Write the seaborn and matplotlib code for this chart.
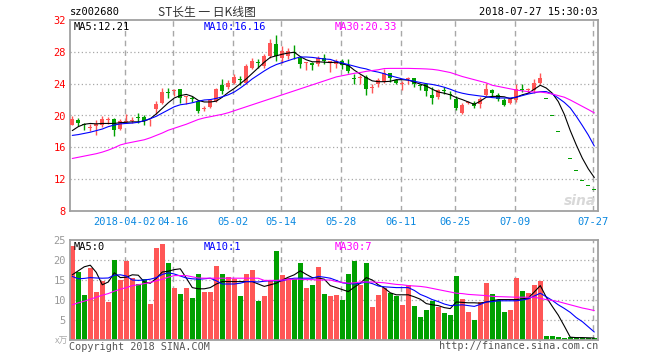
import numpy as np
import pandas as pd
import matplotlib
matplotlib.use("Agg")
import matplotlib.pyplot as plt
import seaborn as sns

# daily K data, 2018-03-20 .. 2018-07-27 (88 trading days shown)
opens = [18.85, 19.45, 18.9, 18.4, 18.67, 18.76, 19.45, 19.6, 18.3, 19.15,
         19.35, 19.75, 19.85, 19.25, 20.8, 21.6, 22.85, 23.05, 23.3, 22.35,
         22.1, 21.82, 20.85, 21.06, 21.82, 23.79, 23.62, 24.12, 24.6, 24.12,
         26.01, 26.7, 26.22, 27.48, 28.94, 27.27, 27.48, 27.95, 27.27, 26.6,
         26.64, 26.43, 27.27, 26.64, 26.42, 26.84, 26.3, 24.6, 24.7, 24.83,
         23.45, 23.91, 24.24, 25.38, 24.45, 23.95, 24.58, 24.75, 23.72, 23.91,
         22.52, 22.31, 23.1, 22.68, 22.1, 20.35, 21.58, 21.61, 21.4, 22.53,
         23.2, 22.53, 21.94, 21.61, 21.94, 23.25, 23.18, 23.2, 24.04, 22.1,
         19.89, 17.9, 16.11, 14.5, 13.05, 11.75, 11.16, 10.6]
highs = [19.95, 19.7, 19.1, 18.9, 19.4, 19.95, 19.85, 19.7, 19.55, 20.2,
         19.85, 20.35, 20.1, 19.5, 21.8, 23.5, 23.5, 23.3, 23.35, 22.45,
         22.5, 22.0, 21.25, 22.0, 23.5, 24.6, 24.5, 25.25, 24.96, 26.43,
         27.27, 27.14, 27.69, 29.57, 30.08, 28.73, 28.52, 28.82, 27.48, 26.7,
         26.7, 27.48, 27.69, 26.85, 27.14, 27.14, 27.14, 25.17, 25.04, 25.04,
         23.99, 24.75, 25.79, 25.38, 24.62, 24.33, 24.9, 24.75, 23.91, 24.12,
         23.61, 23.36, 23.61, 23.07, 22.44, 21.6, 21.82, 21.82, 22.36, 24.04,
         23.37, 22.87, 22.24, 22.24, 23.92, 23.92, 23.5, 24.54, 25.38, 22.1,
         19.89, 17.9, 16.11, 14.5, 13.05, 11.75, 11.16, 10.6]
lows = [18.75, 18.68, 18.2, 18.1, 17.5, 18.5, 18.9, 17.4, 18.2, 19.0,
        19.1, 19.0, 18.8, 18.65, 20.15, 21.4, 22.25, 22.45, 21.6, 21.4,
        21.7, 20.35, 20.55, 20.9, 21.7, 22.65, 23.3, 24.0, 23.8, 23.9,
        25.8, 26.0, 26.0, 27.27, 26.85, 26.64, 27.1, 27.06, 26.01, 25.71,
        25.71, 26.22, 26.43, 25.46, 26.0, 25.8, 25.29, 23.91, 24.0, 22.52,
        22.86, 23.61, 24.12, 24.24, 23.99, 23.2, 23.91, 23.61, 23.2, 22.44,
        21.39, 22.1, 22.65, 22.02, 20.68, 20.14, 21.4, 20.98, 20.98, 22.45,
        22.45, 21.82, 21.19, 21.4, 21.69, 22.95, 22.87, 22.87, 23.92, 22.1,
        19.89, 17.9, 16.11, 14.5, 13.05, 11.75, 11.16, 10.6]
closes = [19.6, 19.1, 18.85, 18.5, 18.95, 19.5, 19.5, 18.2, 19.3, 19.25,
          19.42, 19.7, 19.35, 19.32, 21.5, 23.0, 22.8, 23.1, 22.25, 22.4,
          22.05, 20.56, 20.95, 21.9, 23.28, 23.07, 24.12, 24.83, 24.5, 26.22,
          26.85, 26.6, 27.48, 29.15, 27.48, 28.1, 28.1, 27.85, 26.51, 26.68,
          26.3, 27.27, 26.85, 26.8, 26.84, 26.3, 25.58, 24.54, 24.75, 23.28,
          23.5, 24.45, 25.29, 24.75, 24.12, 24.0, 24.62, 23.91, 23.68, 23.07,
          22.15, 23.2, 23.05, 22.62, 20.89, 21.27, 21.63, 21.19, 22.03, 23.29,
          22.78, 22.11, 21.32, 22.03, 23.37, 23.2, 23.22, 24.13, 24.67, 22.1,
          19.89, 17.9, 16.11, 14.5, 13.05, 11.75, 11.16, 10.6]

ma5 = [18.1, 18.6, 18.9, 19.0, 18.95, 19.0, 19.0, 19.0, 19.1, 19.15,
       19.2, 19.2, 19.3, 19.6, 20.2, 20.9, 21.6, 22.2, 22.5, 22.65,
       22.4, 21.9, 21.7, 21.7, 21.8, 22.3, 22.9, 23.4, 24.0, 24.6,
       25.3, 26.0, 26.7, 27.3, 27.5, 27.7, 27.85, 27.95, 27.4, 27.0,
       26.75, 26.75, 26.7, 26.65, 26.7, 26.5, 26.3, 25.7, 25.2, 24.75,
       24.35, 24.25, 24.25, 24.3, 24.5, 24.5, 24.45, 24.2, 23.95, 23.7,
       23.3, 22.95, 22.8, 22.6, 22.25, 22.0, 21.7, 21.4, 21.8, 22.3,
       22.4, 22.4, 22.35, 22.1, 22.3, 22.6, 22.8, 23.3, 23.8, 23.45,
       22.8, 21.75, 20.15, 18.1, 16.3, 14.65, 13.3, 12.21]
ma10 = [17.5, 17.6, 17.75, 17.9, 18.1, 18.3, 18.6, 18.8, 18.95, 19.0,
        19.05, 19.15, 19.35, 19.6, 19.9, 20.3, 20.7, 21.1, 21.35, 21.45,
        21.6, 21.8, 21.95, 22.0, 22.15, 22.35, 22.6, 22.95, 23.45, 24.0,
        24.6, 25.1, 25.6, 26.05, 26.4, 26.65, 26.9, 27.15, 27.35, 27.35,
        27.3, 27.2, 27.1, 27.05, 26.8, 26.6, 26.4, 26.2, 26.0, 25.85,
        25.6, 25.45, 25.25, 25.0, 24.8, 24.6, 24.45, 24.3, 24.15, 24.0,
        23.9, 23.75, 23.55, 23.3, 23.0, 22.8, 22.65, 22.55, 22.45, 22.35,
        22.25, 22.2, 22.2, 22.2, 22.3, 22.5, 22.7, 22.85, 23.0, 23.0,
        22.7, 22.2, 21.65, 20.95, 19.9, 18.75, 17.55, 16.16]
ma30 = [14.6, 14.75, 14.9, 15.05, 15.2, 15.4, 15.65, 15.95, 16.3, 16.5,
        16.65, 16.8, 16.95, 17.2, 17.5, 17.8, 18.15, 18.4, 18.65, 18.9,
        19.2, 19.5, 19.7, 19.85, 20.0, 20.15, 20.35, 20.6, 20.85, 21.1,
        21.35, 21.6, 21.85, 22.1, 22.35, 22.6, 22.85, 23.1, 23.35, 23.6,
        23.85, 24.1, 24.35, 24.6, 24.85, 25.0, 25.15, 25.3, 25.4, 25.55,
        25.65, 25.75, 25.9, 25.92, 25.92, 25.92, 25.92, 25.9, 25.88, 25.85,
        25.8, 25.7, 25.55, 25.4, 25.15, 24.9, 24.7, 24.5, 24.3, 24.1,
        23.8, 23.65, 23.5, 23.35, 23.2, 23.1, 23.0, 22.95, 22.95, 22.85,
        22.7, 22.5, 22.3, 21.95, 21.55, 21.15, 20.75, 20.33]

# volume, x 万
volume = [23.55, 17.0, 11.3, 18.1, 12.07, 14.8, 9.4, 20.0, 15.04, 19.83,
          15.45, 14.0, 15.2, 9.1, 23.0, 24.0, 19.26, 12.9, 11.57, 12.9,
          10.4, 16.5, 12.07, 12.07, 18.5, 16.5, 15.8, 15.2, 10.9, 16.5,
          17.5, 9.83, 10.9, 14.8, 22.2, 16.3, 15.45, 15.3, 19.26, 13.1,
          13.8, 18.3, 11.57, 10.9, 11.16, 10.1, 16.5, 19.8, 13.8, 19.26,
          8.35, 11.16, 13.1, 11.8, 10.9, 8.84, 13.7, 8.6, 5.87, 7.6,
          9.83, 8.35, 6.86, 6.36, 16.0, 10.33, 7.1, 5.12, 9.5, 14.3,
          11.57, 10.1, 7.1, 7.6, 15.5, 12.3, 11.8, 13.8, 14.8, 0.9,
          0.9, 0.66, 0.41, 0.66, 0.5, 0.5, 0.5, 0.5]
vma5 = [16.3, 17.3, 18.3, 18.7, 16.9, 13.8, 14.5, 16.8, 15.6, 15.7,
        16.3, 16.2, 14.5, 14.2, 15.4, 17.0, 17.2, 17.6, 17.8, 15.5,
        13.1, 12.8, 12.8, 13.1, 14.0, 14.6, 14.6, 14.6, 14.6, 14.6,
        14.6, 14.0, 13.4, 13.8, 14.2, 15.0, 15.7, 16.3, 17.3, 16.4,
        15.6, 15.5, 15.2, 13.6, 13.1, 12.6, 12.1, 13.2, 14.2, 15.6,
        15.0, 13.8, 13.0, 11.8, 11.3, 11.3, 11.3, 10.8, 10.2, 9.1,
        8.8, 8.6, 8.1, 7.85, 9.5, 9.4, 9.3, 9.3, 9.2, 9.5,
        9.8, 10.1, 10.1, 10.1, 10.1, 10.3, 10.5, 12.0, 13.6, 10.7,
        8.4, 6.2, 3.5, 0.7, 0.6, 0.6, 0.55, 0.5]
vma10 = [15.9, 15.3, 15.4, 15.6, 15.5, 15.45, 15.5, 16.2, 16.3, 16.0,
         15.0, 14.9, 15.0, 15.2, 15.6, 16.4, 16.8, 16.5, 16.0, 15.5,
         15.3, 15.2, 15.3, 15.45, 14.8, 14.0, 14.0, 14.0, 14.2, 14.6,
         14.6, 14.5, 14.7, 14.8, 14.8, 14.8, 15.2, 15.45, 15.45, 15.45,
         15.45, 15.9, 15.7, 15.45, 14.9, 14.3, 14.1, 14.0, 14.2, 14.5,
         14.1, 13.5, 13.3, 13.2, 13.1, 13.1, 13.1, 12.4, 11.4, 10.8,
         10.1, 9.6, 9.0, 8.6, 8.7, 8.8, 8.6, 8.4, 8.9, 9.5,
         9.6, 9.8, 9.8, 9.8, 9.8, 10.0, 10.3, 11.0, 11.7, 10.8,
         9.9, 8.8, 7.9, 6.9, 5.6, 4.6, 3.3, 2.0]
vma30 = [8.8, 9.3, 9.7, 10.2, 10.7, 11.2, 11.6, 12.2, 12.7, 13.1,
         13.6, 13.8, 14.1, 14.4, 14.8, 15.2, 15.7, 16.1, 16.1, 16.1,
         15.8, 15.5, 15.45, 15.45, 15.45, 15.45, 15.45, 15.45, 15.45, 15.45,
         15.45, 15.45, 14.9, 14.9, 14.9, 15.0, 15.1, 15.2, 15.2, 15.1,
         15.1, 15.0, 15.0, 15.0, 14.6, 14.4, 14.2, 14.3, 14.5, 14.5,
         14.5, 14.4, 14.3, 14.1, 13.9, 13.8, 13.6, 13.5, 13.4, 13.2,
         12.9, 12.6, 12.3, 12.0, 11.7, 11.6, 11.4, 11.3, 11.2, 11.1,
         10.9, 10.85, 10.8, 10.75, 10.7, 10.7, 10.7, 10.7, 10.4, 10.1,
         9.9, 9.6, 9.2, 8.8, 8.4, 8.0, 7.7, 7.36]

date_idx = [9, 17, 27, 35, 45, 55, 64, 74, 87]
date_labels = ["2018-04-02", "04-16", "05-02", "05-14", "05-28",
               "06-11", "06-25", "07-09", "07-27"]

RED = "#ff5656"
GREEN = "#00a000"
GRID = "#a8a8a8"
MONO = "DejaVu Sans Mono"

df = pd.DataFrame({"o": opens, "h": highs, "l": lows, "c": closes,
                   "ma5": ma5, "ma10": ma10, "ma30": ma30,
                   "vol": volume, "vma5": vma5, "vma10": vma10, "vma30": vma30})
df["i"] = np.arange(len(df))
# one-price days take their colour from the previous close
prev = df["c"].shift(1).fillna(df["o"])
up = (df["c"] > df["o"]) | ((df["c"] == df["o"]) & (df["c"] >= prev))
df["up"] = np.where(up, "up", "down")
colors = np.where(up, RED, GREEN)

sns.set_style("white")
plt.rcParams["font.family"] = ["DejaVu Sans Mono", "Noto Sans CJK SC"]

fig = plt.figure(figsize=(6.6, 3.6), dpi=100)
W, H = 660, 360
ax = fig.add_axes([70 / W, 1 - 211 / H, 528 / W, 191 / H])
axv = fig.add_axes([70 / W, 1 - 340 / H, 528 / W, 100 / H])

# price panel
for y in [12, 16, 20, 24, 28]:
    ax.axhline(y, color=GRID, lw=0.9, ls=(0, (1, 2)), zorder=0)
for d in date_idx:
    ax.axvline(d - 0.25, color=GRID, lw=1.0, ls=(0, (4, 3)), zorder=0)

ax.vlines(df["i"], df["l"], df["h"], colors=colors, lw=1.0, zorder=2)
body = (df["c"] - df["o"]).abs().clip(lower=0.12)
ax.bar(df["i"], body, bottom=df[["o", "c"]].min(axis=1), width=0.72,
       color=colors, linewidth=0, zorder=3)

sns.lineplot(data=df, x="i", y="ma5", ax=ax, color="black", lw=0.8, zorder=4)
sns.lineplot(data=df, x="i", y="ma10", ax=ax, color="#0000ff", lw=0.8, zorder=4)
sns.lineplot(data=df, x="i", y="ma30", ax=ax, color="#ff00ff", lw=0.8, zorder=4)

ax.set_xlim(-0.38, 87.62)
ax.set_ylim(8, 32)
ax.set_yticks([8, 12, 16, 20, 24, 28, 32])
ax.set_yticklabels([str(v) for v in [8, 12, 16, 20, 24, 28, 32]],
                   color="#ff0000", fontsize=7.5, family=MONO)
ax.set_xticks([d - 0.25 for d in date_idx])
ax.set_xticklabels(date_labels, color="#0a88e0", fontsize=7.5, family=MONO)
ax.tick_params(length=0, pad=3)
ax.tick_params(axis="x", pad=4)
ax.set_xlabel("")
ax.set_ylabel("")

# volume panel
for y in [5, 10, 15, 20]:
    axv.axhline(y, color=GRID, lw=0.9, ls=(0, (1, 2)), zorder=0)
for d in date_idx:
    axv.axvline(d - 0.25, color=GRID, lw=1.0, ls=(0, (4, 3)), zorder=0)

sns.barplot(data=df, x="i", y="vol", hue="up", palette={"up": RED, "down": GREEN},
            dodge=False, width=0.8, saturation=1, legend=False, ax=axv,
            zorder=2, linewidth=0)
sns.lineplot(x=df["i"], y=df["vma5"], ax=axv, color="black", lw=0.8, zorder=4)
sns.lineplot(x=df["i"], y=df["vma10"], ax=axv, color="#0000ff", lw=0.8, zorder=4)
sns.lineplot(x=df["i"], y=df["vma30"], ax=axv, color="#ff00ff", lw=0.8, zorder=4)

axv.set_xlim(-0.38, 87.62)
axv.set_ylim(0, 25)
axv.set_yticks([5, 10, 15, 20, 25])
axv.set_yticklabels(["5", "10", "15", "20", "25"], color="#999999",
                    fontsize=7.5, family=MONO)
axv.set_xticks([])
axv.tick_params(length=0, pad=3)
axv.set_xlabel("")
axv.set_ylabel("")

for a in (ax, axv):
    for s in a.spines.values():
        s.set_color("#a0a0a0")
        s.set_linewidth(1.3)
        s.set_visible(True)


def px(x, y, s, **kw):
    fig.text(x / W, 1 - y / H, s, va="center", **kw)


px(70, 12, "sz002680", fontsize=7.5, family=MONO, color="black")
px(207, 12, "ST长生 一 日K线图", fontsize=8.5, ha="center",
   family=["Noto Sans CJK SC", "DejaVu Sans"], color="#333333")
px(598, 12, "2018-07-27 15:30:03", fontsize=7.5, ha="right", family=MONO,
   color="black")

px(74, 27, "MA5:12.21", fontsize=7.5, family=MONO, color="black")
px(204, 27, "MA10:16.16", fontsize=7.5, family=MONO, color="#0000ff")
px(335, 27, "MA30:20.33", fontsize=7.5, family=MONO, color="#ff00ff")

px(74, 247, "MA5:0", fontsize=7.5, family=MONO, color="black")
px(204, 247, "MA10:1", fontsize=7.5, family=MONO, color="#0000ff")
px(335, 247, "MA30:7", fontsize=7.5, family=MONO, color="#ff00ff")

px(68, 341, "x万", fontsize=6.5, ha="right",
   family=["Noto Sans CJK SC", "DejaVu Sans"], color="#aaaaaa")
px(69, 347, "Copyright 2018 SINA.COM", fontsize=7.3, family=MONO, color="#555555")
px(598, 346, "http://finance.sina.com.cn", fontsize=7.3, ha="right",
   family=MONO, color="#555555")
px(580, 201, "sina", fontsize=10, ha="center", family="DejaVu Sans",
   style="italic", weight="bold", color="#d8d8d8", zorder=0)

fig.savefig("out.png", dpi=100, facecolor="white")
